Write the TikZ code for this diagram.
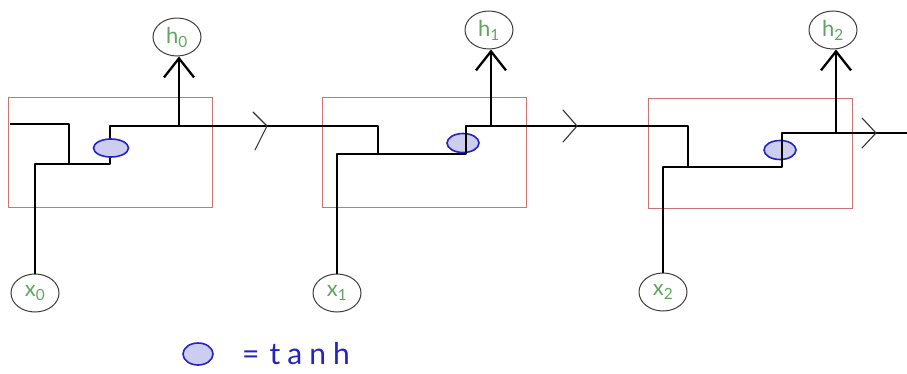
\documentclass[tikz,border=0pt]{standalone}
\usepackage{fontspec}
\newfontfamily\handfont{Lato}
\usetikzlibrary{arrows.meta,shapes.geometric}
\definecolor{boxred}{RGB}{205,115,115}
\definecolor{lblgreen}{RGB}{95,165,95}
\definecolor{tanhblue}{RGB}{35,35,195}
\definecolor{tanhfill}{RGB}{205,205,240}
\definecolor{ringgray}{RGB}{60,60,60}
\tikzset{
  cellbox/.style={draw=boxred,line width=0.9pt,minimum width=204pt,minimum height=110pt,inner sep=0pt},
  lbl/.style={ellipse,draw=ringgray,line width=1pt,minimum width=48pt,minimum height=38pt,inner sep=0pt,text=lblgreen,font=\handfont\fontsize{22}{22}\selectfont},
  tanhnode/.style={ellipse,draw=tanhblue,fill=tanhfill,line width=1.6pt,minimum width=32pt,minimum height=19pt,inner sep=0pt},
  wire/.style={line width=2.3pt,black,line join=round},
  outarrow/.style={wire,-{Straight Barb[length=19pt,width=30pt,line width=2.3pt]}},
  chev/.style={line width=1.1pt,black!80,line cap=round}
}
\begin{document}
\begin{tikzpicture}[x=1pt,y=-1pt]
\useasboundingbox (0,0) rectangle (907,373);
% cell boxes
\node[cellbox] (c0) at (110,152) {};
\node[cellbox] (c1) at (424,152) {};
\node[cellbox] (c2) at (750,153) {};
% label ellipses
\node[lbl] (h0) at (177,37) {h\textsubscript{0}};
\node[lbl] (h1) at (489,30) {h\textsubscript{1}};
\node[lbl] (h2) at (833,30) {h\textsubscript{2}};
\node[lbl] (x0) at (35,293) {x\textsubscript{0}};
\node[lbl] (x1) at (337,293) {x\textsubscript{1}};
\node[lbl] (x2) at (663,292) {x\textsubscript{2}};
% tanh nodes under the wires (cells 1,2)
\node[tanhnode] (t1) at (463,143) {};
\node[tanhnode] (t2) at (780,150) {};
% junction coordinates
\coordinate (s0) at (10,124);
\coordinate (j0) at (69,164);
\coordinate (p0) at (110,164);
\coordinate (o0) at (179,126);
\coordinate (j1) at (378,154);
\coordinate (p1) at (466,154);
\coordinate (o1) at (491,126);
\coordinate (j2) at (688,167);
\coordinate (p2) at (782,167);
\coordinate (o2) at (836,133);
\coordinate (e2) at (907,133);
% wires
\draw[wire] (s0) -| (j0);
\draw[wire] (x0.north) |- (p0) |- (j1 |- o0) -- (j1);
\draw[wire] (x1.north) |- (p1) |- (j2 |- o1) -- (j2);
\draw[wire] (x2.north) |- (p2) |- (e2);
% outputs
\draw[outarrow] (o0) -- (o0 |- h0.south);
\draw[outarrow] (o1) -- (o1 |- h1.south);
\draw[outarrow] (o2) -- (o2 |- h2.south);
% direction chevrons
\draw[chev] (253,112) -- (267,126) -- (255,150);
\draw[chev] (563,110) -- (577,126) -- (563,142);
\draw[chev] (862,118) -- (876,133) -- (862,148);
% tanh node over wire (cell 0)
\node[tanhnode,minimum width=35pt,minimum height=18pt] (t0) at (111,148) {};
% legend
\node[tanhnode,minimum width=30pt,minimum height=22pt] (leg) at (198,354) {};
\node[anchor=west,text=tanhblue,font=\handfont\fontsize{30}{30}\selectfont,inner sep=0pt] (legtxt) at (242,354) {=\hspace{10pt}t\hspace{7pt}a\hspace{7pt}n\hspace{7pt}h};
\end{tikzpicture}
\end{document}
